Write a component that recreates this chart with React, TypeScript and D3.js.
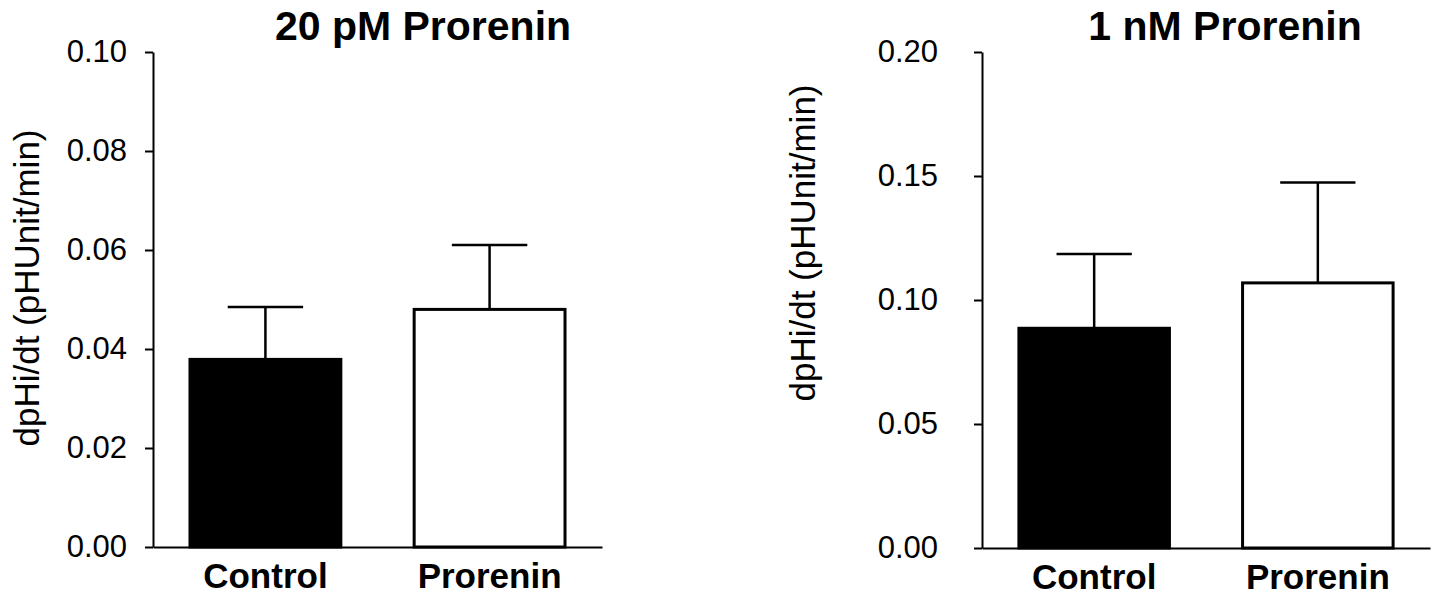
import React, { useEffect, useRef } from "react";
import * as d3 from "d3";

const categories = ["Control", "Prorenin"];
const barFills = ["#000000", "#ffffff"];

const panelTitles = ["20 pM Prorenin", "1 nM Prorenin"];
const yLabel = "dpHi/dt (pHUnit/min)";

// mean values and SEM
const means20pM = [0.0379, 0.048];
const sem20pM = [0.0106, 0.013];
const means1nM = [0.0886, 0.1069];
const sem1nM = [0.0299, 0.0405];

const ticks20pM = [0, 0.02, 0.04, 0.06, 0.08, 0.1];
const ticks1nM = [0, 0.05, 0.1, 0.15, 0.2];

const App = () => {
  const chartRef = useRef<HTMLDivElement>(null);

  useEffect(() => {
    document.body.style.margin = "0";
    drawChart();
  }, []);

  const drawChart = () => {
    if (!chartRef.current) return;
    chartRef.current.innerHTML = "";
    const width = 1435;
    const height = 596;
    const font = "'Liberation Sans', Arial, sans-serif";

    const svg = d3
      .create("svg")
      .attr("width", width)
      .attr("height", height)
      .attr("viewBox", [0, 0, width, height])
      .style("display", "block")
      .style("background", "#fff")
      .style("font-family", font);

    // layout for each panel
    const panels = [
      {
        title: panelTitles[0],
        means: means20pM,
        sem: sem20pM,
        ticks: ticks20pM,
        yMax: 0.1,
        left: 153,
        right: 602,
        top: 52,
        bottom: 547,
        labelPad: 18,
        titleX: 423,
        yLabelX: 27,
        yLabelY: 288,
      },
      {
        title: panelTitles[1],
        means: means1nM,
        sem: sem1nM,
        ticks: ticks1nM,
        yMax: 0.2,
        left: 982,
        right: 1430,
        top: 52,
        bottom: 548,
        labelPad: 36,
        titleX: 1225,
        yLabelX: 803,
        yLabelY: 243,
      },
    ];

    panels.forEach((p) => {
      const x = d3
        .scaleBand()
        .domain(categories)
        .range([p.left, p.right])
        .paddingInner(0.327)
        .paddingOuter(0.165);

      const y = d3.scaleLinear().domain([0, p.yMax]).range([p.bottom, p.top]);

      const g = svg.append("g");

      // bars
      g.append("g")
        .selectAll()
        .data(p.means)
        .join("rect")
        .attr("x", (d, i) => x(categories[i]))
        .attr("y", (d) => y(d))
        .attr("width", x.bandwidth())
        .attr("height", (d) => y(0) - y(d))
        .attr("fill", (d, i) => barFills[i])
        .attr("stroke", "#000")
        .attr("stroke-width", 3);

      // error bars (upper only)
      const err = g.append("g").attr("stroke", "#000").attr("stroke-width", 2.5);
      err
        .selectAll()
        .data(p.means)
        .join("line")
        .attr("x1", (d, i) => x(categories[i]) + x.bandwidth() / 2)
        .attr("x2", (d, i) => x(categories[i]) + x.bandwidth() / 2)
        .attr("y1", (d) => y(d))
        .attr("y2", (d, i) => y(d + p.sem[i]));
      err
        .selectAll(".cap")
        .data(p.means)
        .join("line")
        .attr("class", "cap")
        .attr("x1", (d, i) => x(categories[i]) + x.bandwidth() / 4)
        .attr("x2", (d, i) => x(categories[i]) + (x.bandwidth() * 3) / 4)
        .attr("y1", (d, i) => y(d + p.sem[i]))
        .attr("y2", (d, i) => y(d + p.sem[i]));

      // y axis
      g.append("g")
        .attr("transform", `translate(${p.left},0)`)
        .call(
          d3
            .axisLeft(y)
            .tickValues(p.ticks)
            .tickFormat(d3.format(".2f"))
            .tickSize(8)
            .tickSizeOuter(0)
            .tickPadding(p.labelPad)
        )
        .call((a) => a.selectAll("line, path").attr("stroke", "#000").attr("stroke-width", 2))
        .call((a) =>
          a
            .selectAll("text")
            .attr("fill", "#000")
            .style("font-family", font)
            .style("font-size", "31px")
        );

      // x axis
      g.append("g")
        .attr("transform", `translate(0,${p.bottom})`)
        .call(d3.axisBottom(x).tickSize(0).tickSizeOuter(0).tickPadding(16))
        .call((a) => a.select(".domain").attr("stroke", "#000").attr("stroke-width", 2))
        .call((a) =>
          a
            .selectAll("text")
            .attr("fill", "#000")
            .style("font-family", font)
            .style("font-size", "35px")
            .style("font-weight", "bold")
        );

      // title
      g.append("text")
        .attr("x", p.titleX)
        .attr("y", 40)
        .attr("text-anchor", "middle")
        .style("font-size", "41px")
        .style("font-weight", "bold")
        .text(p.title);

      // y label
      g.append("text")
        .attr("transform", `translate(${p.yLabelX},${p.yLabelY}) rotate(-90)`)
        .attr("text-anchor", "middle")
        .attr("dy", "0.35em")
        .style("font-size", "35px")
        .text(yLabel);
    });

    chartRef.current.appendChild(svg.node());
  };

  return <div ref={chartRef}></div>;
};

export default App;
